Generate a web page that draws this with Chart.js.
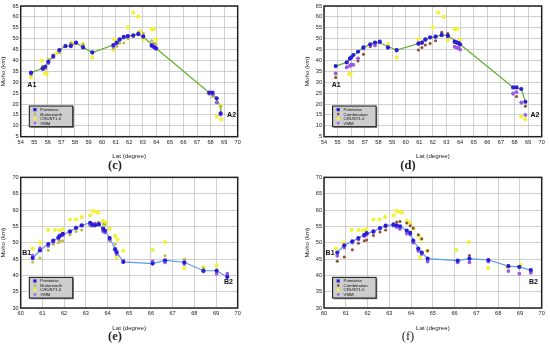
<!DOCTYPE html>
<html><head><meta charset="utf-8">
<script src="https://cdn.jsdelivr.net/npm/chart.js@4"></script>
<style>
body{margin:0;background:#fff;width:550px;height:345px;position:relative;overflow:hidden}
.p{position:absolute;width:275px;height:160px}
.cap{position:absolute;font-family:"Liberation Serif","DejaVu Serif",serif;font-size:12.5px;color:#222;transform:translate(-50%,-50%)}
</style></head><body>
<div class="p" style="left:0;top:0"><canvas id="cC"></canvas></div>
<div class="p" style="left:275px;top:0"><canvas id="cD"></canvas></div>
<div class="p" style="left:0;top:172px"><canvas id="cE"></canvas></div>
<div class="p" style="left:275px;top:172px"><canvas id="cF"></canvas></div>
<div class="cap" style="left:115px;top:165px;font-weight:bold">(c)</div>
<div class="cap" style="left:408px;top:165px;font-weight:bold">(d)</div>
<div class="cap" style="left:115px;top:336px;font-weight:bold">(e)</div>
<div class="cap" style="left:408px;top:336px">(f)</div>
<script>
// ---------- Panel (c) ----------
const cPwLat  = [54.76,55.62,55.8,56.04,56.4,56.85,57.3,57.7,58.08,58.6,59.28,60.83,61.08,61.3,61.6,61.9,62.3,62.67,63.04,63.66,63.83,63.98,67.9,68.15,68.45,68.74];
const cPwMoho = [34.4,36.4,37.1,39.4,42,44.8,46.6,46.6,48.2,46,43.6,47.1,48.2,49.7,50.8,51.2,51.5,52.1,50.9,47,46.3,45.6,25.2,25.2,22.6,15.7];
const cVmmMoho= [34.0,36.0,37.0,38.8,41.5,44.5,46.5,47.2,48.0,46.2,43.8,46.5,47.8,49.5,50.5,51.0,51.3,52.3,51.3,46.5,46.0,45.3,25.0,24.5,20.8,15.2];
const cBwMoho = [33.5,37.5,36.0,40.5,42.5,43.5,47.0,48.0,47.8,47.4,44.0,45.5,46.5,48.0,48.0,50.0,51.0,53.0,52.5,49.0,48.0,47.5,24.5,23.5,20.5,19.0];
const cCrLat  = [54.76,55.55,55.8,55.92,56.65,57.75,58.6,59.28,60.83,60.9,61.9,62.3,62.67,62.8,63.04,63.66,63.83,63.98,68.45,68.8,68.74];
const cCrMoho = [32.2,39.9,34.0,33.8,43.3,48.2,47.5,41.4,44.8,49.7,55.2,62.0,60.1,53.4,49.7,54.3,54.6,49.7,14.2,13.0,19.0];
const cLineLat  = [54.76,55.62,56.04,56.4,56.85,57.3,57.7,58.08,58.6,59.28,60.83,61.3,61.9,62.67,63.04,63.98,67.9,68.15,68.74,68.76];
const cLineMoho = [34.4,36.4,39.4,42,44.8,46.6,46.6,48.2,46,43.6,47.1,49.7,51.2,52.1,50.9,45.6,25.2,25.0,19,15.7];

// ---------- Panel (d) ----------
const dPwLat  = [54.86,55.67,55.9,56.0,56.16,56.5,56.9,57.4,57.75,58.1,58.7,59.34,60.94,61.2,61.45,61.8,62.2,62.65,63.1,63.6,63.75,63.9,64.0,67.9,68.15,68.5,68.8];
const dPwMoho = [37.4,39.1,40.8,41.4,42.5,44.0,46.0,47.4,48.2,48.6,45.9,44.8,47.8,48.2,49.7,50.6,50.9,51.7,51.4,48.6,48.3,48.0,47.4,27.6,27.6,26.9,21.0];
const dCoMoho = [32.2,37.0,37.6,37.9,38.0,39.7,42.9,46.3,48.2,48.5,46.0,45.0,44.8,45.9,47.1,47.8,49.1,53.0,52.4,48.3,48.0,47.6,47.2,24.6,23.4,20.5,19.0];
const dVmmMoho= [34.1,36.8,37.5,38.2,38.0,41.0,45.5,47.1,46.9,48.3,46.2,44.5,47.5,48.0,49.4,50.5,51.0,51.5,51.0,46.3,45.9,45.6,45.0,24.9,25.5,20.8,15.0];
const dCrLat  = [54.86,55.85,55.95,58.7,59.34,60.94,62.0,62.4,62.8,63.1,63.6,63.8,64.0,68.5,68.8];
const dCrMoho = [33.8,34.0,33.5,47.5,41.4,49.7,55.2,62.0,60.0,49.4,54.3,54.6,49.7,14.2,13.0];
const dLineLat  = [54.86,55.67,56.0,56.5,56.9,57.4,57.75,58.1,59.34,60.94,61.45,62.2,62.65,63.1,64.0,67.9,68.5,68.8];
const dLineMoho = [37.4,39.1,41.4,44.0,46.0,47.4,48.2,48.0,44.8,47.8,49.7,50.9,51.7,51.4,47.4,27.6,26.9,21.0];

// ---------- Panel (e) ----------
const ePwLat  = [60.55,60.89,61.27,61.5,61.74,61.81,61.94,62.27,62.55,62.81,63.2,63.3,63.43,63.6,63.8,63.88,64.1,64.35,64.42,64.73,66.08,66.65,67.54,68.42,69.03,69.52];
const ePwMoho = [45.3,47.6,49.6,50.6,51.6,52.2,52.7,53.5,54.5,55.3,56.1,55.5,55.3,55.6,54.3,53.7,51.4,48.0,47.1,44.1,43.6,44.6,44.0,41.4,41.4,39.5];
const eVmmMoho= [46.0,48.3,49.0,50.2,51.2,52.0,52.3,53.2,54.7,55.2,55.6,55.2,55.8,55.9,53.5,53.2,51.0,47.8,46.5,44.5,44.3,44.0,43.5,41.2,40.5,40.5];
const eBwMoho = [44.1,45.3,47.7,49.5,50.0,50.4,50.6,52.4,53.4,53.9,55.0,55.5,56.0,56.3,55.7,55.5,50.5,49.5,46.5,44.1,44.0,46.0,44.9,42.2,41.8,40.2];
const eCrLat  = [60.55,60.89,61.27,61.58,61.8,61.94,62.27,62.55,62.81,63.2,63.32,63.45,63.58,63.8,63.93,64.1,64.35,64.46,64.42,64.73,66.08,66.65,67.54,68.42,69.03];
const eCrMoho = [48.2,50.0,53.9,53.9,53.8,54.1,57.1,57.1,57.8,58.4,59.7,59.5,59.2,56.7,56.1,54.3,52.1,51.0,45.5,47.5,47.8,50.2,42.2,42.5,43.1];
const eLineLat  = [60.55,60.89,61.27,61.74,62.27,62.81,63.2,63.6,63.88,64.1,64.42,64.73,66.08,66.65,67.54,68.42,69.03,69.52];
const eLineMoho = [45.3,47.6,49.6,51.6,53.5,55.3,56.1,55.6,53.7,51.4,47.1,44.1,43.6,44.6,44.0,41.4,41.4,39.5];

// ---------- Panel (f) ----------
const fPwLat  = [60.61,60.93,61.3,61.58,61.85,61.96,62.27,62.57,62.83,63.19,63.34,63.49,63.8,63.96,64.1,64.33,64.49,64.76,66.14,66.68,67.55,68.47,68.97,69.5];
const fPwMoho = [47.0,49.2,50.4,51.4,52.4,52.9,53.5,54.5,55.2,55.5,55.3,55.0,53.7,53.0,50.6,48.2,47.0,45.1,44.5,45.1,44.7,42.8,42.6,41.6];
const fCoMoho = [44.3,45.6,47.8,49.8,50.6,50.8,52.2,53.3,53.9,55.8,56.3,56.5,56.0,55.2,54.5,52.4,51.2,47.5,44.0,46.1,44.8,43.0,42.3,41.1];
const fVmmMoho= [46.0,48.5,50.0,51.0,52.0,52.5,53.2,54.3,55.0,55.2,54.8,54.2,52.8,52.5,50.0,47.5,46.5,44.2,44.0,44.0,44.2,41.3,40.5,40.8];
const fCrLat  = eCrLat;
const fCrMoho = eCrMoho;
const fLineLat  = [60.61,60.93,61.3,61.85,62.27,62.83,63.19,63.49,63.96,64.1,64.49,64.76,66.14,66.68,67.55,68.47,68.97,69.5];
const fLineMoho = [47.0,49.2,50.4,52.4,53.5,55.2,55.5,55.0,53.0,50.6,47.0,45.1,44.5,45.1,44.7,42.8,42.6,41.6];

// axis/legend text
const yTitle = 'Moho (km)';
const xTitle = 'Lat (degree)';
const legendC = ['Pointwise','Butterworth','CRUST1.0','VMM'];
const legendD = ['Pointwise','Combination','CRUST1.0','VMM'];

const COL = {pw:'#2a1fd6', vmm:'#9a5ae6', bw:'#b9bd3a', co:'#8a4f2e', cr:'#f2f23a'};

function pts(xs, ys){ return xs.map((x,i)=>({x:x, y:ys[i]})); }

const framePlugin = {
  id:'frame',
  afterDraw(chart, args, o){
    const a = chart.chartArea, ctx = chart.ctx;
    ctx.save();
    ctx.strokeStyle = '#222'; ctx.lineWidth = 1.5;
    ctx.strokeRect(a.left, a.top, a.right-a.left, a.bottom-a.top);
    const xs = chart.scales.x, ys = chart.scales.y;
    ctx.fillStyle = '#111';
    ctx.font = 'bold 7px "Liberation Sans", Arial, sans-serif';
    ctx.textAlign = 'center'; ctx.textBaseline = 'middle';
    (o.tags||[]).forEach(t => ctx.fillText(t.t, xs.getPixelForValue(t.x), ys.getPixelForValue(t.y)));
    const lx = a.left + 8.6, ly = a.top + 100, lw = 43.5, lh = 20.7;
    ctx.fillStyle = '#8a8a8a';
    ctx.fillRect(lx+1.2, ly+1.2, lw, lh);
    ctx.fillStyle = '#cdcdcd';
    ctx.fillRect(lx, ly, lw, lh);
    ctx.strokeStyle = '#111'; ctx.lineWidth = 1;
    ctx.strokeRect(lx, ly, lw, lh);
    ctx.font = '4.3px "Liberation Sans", Arial, sans-serif';
    ctx.textAlign = 'left';
    o.legend.forEach((e,i) => {
      const yy = ly + 3.6 + i*4.5;
      ctx.fillStyle = e.c;
      if (i===0) ctx.fillRect(lx+4, yy-1.6, 3.2, 3.2);
      else { ctx.beginPath(); ctx.arc(lx+5.6, yy, i===2?1.6:1.3, 0, Math.PI*2); ctx.fill(); }
      ctx.fillStyle = '#111';
      ctx.fillText(e.t, lx+11, yy+0.3);
    });
    ctx.restore();
  }
};

function makePanel(id, o){
  const fontTick = {family:'"Liberation Sans", Arial, sans-serif', size:5.6};
  const fontTitle = {family:'"Liberation Sans", Arial, sans-serif', size:6.2};
  const ds = [
    {label:o.leg[0], data:pts(o.pwLat,o.pwMoho), backgroundColor:COL.pw, borderColor:COL.pw, pointRadius:2.1, pointBorderWidth:0},
    {label:o.leg[3], data:pts(o.pwLat,o.vmm), backgroundColor:COL.vmm, borderColor:COL.vmm, pointRadius:1.9, pointBorderWidth:0},
    {label:o.leg[1], data:pts(o.pwLat,o.mid), backgroundColor:o.midCol, borderColor:o.midCol, pointRadius:1.5, pointBorderWidth:0},
    {label:o.leg[2], data:pts(o.crLat,o.cr), backgroundColor:COL.cr, borderColor:COL.cr, pointRadius:2.1, pointBorderWidth:0},
    {label:'profile', data:pts(o.lineLat,o.lineMoho), showLine:true, borderColor:o.lineCol, borderWidth:1.2, pointRadius:0, fill:false, tension:0}
  ];
  new Chart(document.getElementById(id), {
    type:'scatter',
    data:{datasets:ds},
    options:{
      responsive:true, maintainAspectRatio:false, animation:false,
      layout:{padding:o.pad},
      plugins:{legend:{display:false}, tooltip:{enabled:false},
        frame:{tags:o.tags, legend:o.leg.map((t,i)=>({t:t, c:[COL.pw,o.midCol,COL.cr,COL.vmm][i]}))}},
      scales:{
        x:{type:'linear', min:o.xmin, max:o.xmax,
           ticks:{stepSize:1, font:fontTick, color:'#222', padding:2, maxRotation:0},
           grid:{color:'#c4c4c4', lineWidth:0.8, drawTicks:false},
           border:{display:false},
           title:{display:true, text:xTitle, font:fontTitle, color:'#222', padding:{top:1,bottom:0}},
           afterFit(s){ s.height = o.xh; }},
        y:{type:'linear', min:o.ymin, max:o.ymax,
           ticks:{stepSize:5, font:fontTick, color:'#222', padding:2},
           grid:{color:'#c4c4c4', lineWidth:0.8, drawTicks:false},
           border:{display:false},
           title:{display:true, text:yTitle, font:fontTitle, color:'#222', padding:{top:0,bottom:1}},
           afterFit(s){ s.width = o.yw; }}
      }
    },
    plugins:[framePlugin]
  });
}

makePanel('cC', {pwLat:cPwLat, pwMoho:cPwMoho, vmm:cVmmMoho, mid:cBwMoho, midCol:COL.bw, crLat:cCrLat, cr:cCrMoho,
  lineLat:cLineLat, lineMoho:cLineMoho, lineCol:'#5fae2a', leg:legendC, xmin:54, xmax:70, ymin:5, ymax:65,
  pad:{left:0, right:37.3, top:6, bottom:0}, yw:20.7, xh:23.3,
  tags:[{t:'A1', x:54.82, y:28.7},{t:'A2', x:69.55, y:14.9}]});
makePanel('cD', {pwLat:dPwLat, pwMoho:dPwMoho, vmm:dVmmMoho, mid:dCoMoho, midCol:COL.co, crLat:dCrLat, cr:dCrMoho,
  lineLat:dLineLat, lineMoho:dLineMoho, lineCol:'#5fae2a', leg:legendD, xmin:54, xmax:70, ymin:5, ymax:65,
  pad:{left:29, right:8.3, top:6, bottom:0}, yw:20, xh:23.3,
  tags:[{t:'A1', x:54.9, y:28.7},{t:'A2', x:69.5, y:14.9}]});
makePanel('cE', {pwLat:ePwLat, pwMoho:ePwMoho, vmm:eVmmMoho, mid:eBwMoho, midCol:COL.bw, crLat:eCrLat, cr:eCrMoho,
  lineLat:eLineLat, lineMoho:eLineMoho, lineCol:'#5b9cf0', leg:legendC, xmin:60, xmax:70, ymin:30, ymax:70,
  pad:{left:0, right:37.3, top:5.3, bottom:0}, yw:20.7, xh:24,
  tags:[{t:'B1', x:60.28, y:46.8},{t:'B2', x:69.57, y:37.9}]});
makePanel('cF', {pwLat:fPwLat, pwMoho:fPwMoho, vmm:fVmmMoho, mid:fCoMoho, midCol:COL.co, crLat:fCrLat, cr:fCrMoho,
  lineLat:fLineLat, lineMoho:fLineMoho, lineCol:'#5b9cf0', leg:legendD, xmin:60, xmax:70, ymin:30, ymax:70,
  pad:{left:29, right:8.3, top:5.3, bottom:0}, yw:20, xh:24,
  tags:[{t:'B1', x:60.28, y:46.9},{t:'B2', x:69.62, y:37.9}]});
</script>
</body></html>
